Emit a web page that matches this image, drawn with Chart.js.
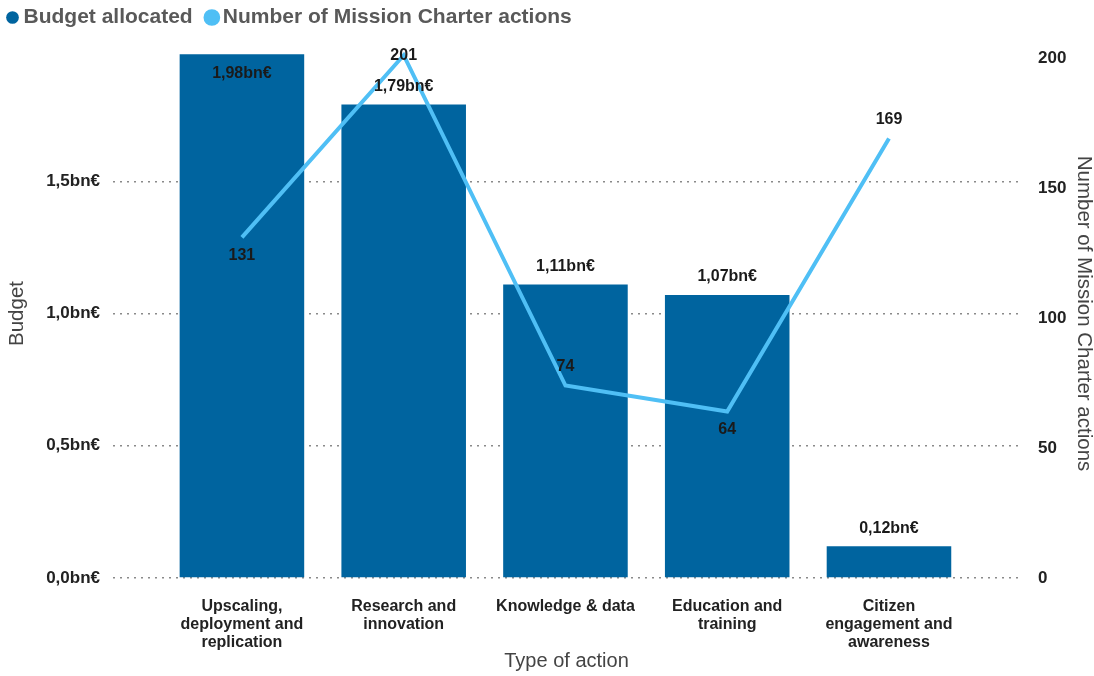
<!DOCTYPE html>
<html>
<head>
<meta charset="utf-8">
<script src="https://cdn.jsdelivr.net/npm/chart.js@4.4.1/dist/chart.umd.min.js"></script>
<style>
  body{margin:0;background:#fff;}
  #wrap{width:1094px;height:676px;}
</style>
</head>
<body>
<div id="wrap"><canvas id="chart" width="1094" height="676"></canvas></div>
<script>
const categories=[
  ["Upscaling,","deployment and","replication"],
  ["Research and","innovation"],
  ["Knowledge & data"],
  ["Education and","training"],
  ["Citizen","engagement and","awareness"]
];
const budget=[1.98,1.79,1.11,1.07,0.12];
const actions=[131,201,74,64,169];
const budgetTicks=[0,0.5,1.0,1.5];
const actionTicks=[0,50,100,150,200];
const actionLabelSide=["below","center","above","below","above"];

const BAR="#00649F", LINE="#4FBFF5";
const FONT="'Liberation Sans', Arial, sans-serif";
const fmtBn=(v,d)=>v.toFixed(d).replace(".",",")+"bn€";

// bar / line value labels
const valueLabels={
  id:"valueLabels",
  afterDatasetsDraw(chart){
    const ctx=chart.ctx, top=chart.chartArea.top;
    ctx.save();
    ctx.font="bold 16px "+FONT;
    ctx.fillStyle="#1a1a1a";
    ctx.textAlign="center"; ctx.textBaseline="middle";
    chart.getDatasetMeta(0).data.forEach((el,i)=>{
      let y=el.y-18;
      if(y<top+8) y=el.y+19;
      ctx.fillText(fmtBn(budget[i],2),el.x,y);
    });
    chart.getDatasetMeta(1).data.forEach((el,i)=>{
      const side=actionLabelSide[i];
      const y=side==="below"?el.y+18:side==="above"?el.y-19:el.y;
      ctx.fillText(String(actions[i]),el.x,y);
    });
    ctx.restore();
  }
};

// extra room under the legend
const legendGap={
  id:"legendGap",
  beforeInit(chart){
    const fit=chart.legend.fit;
    chart.legend.fit=function(){ fit.call(this); this.height+=11; };
  }
};

new Chart(document.getElementById("chart"),{
  type:"bar",
  data:{
    datasets:[
      {label:"Budget allocated",data:budget.map((v,i)=>({x:i,y:v})),backgroundColor:BAR,
       barPercentage:0.77,categoryPercentage:1,yAxisID:"y",order:2},
      {type:"line",label:"Number of Mission Charter actions",data:actions.map((v,i)=>({x:i,y:v})),
       borderColor:LINE,backgroundColor:LINE,borderWidth:4,pointRadius:0,tension:0,yAxisID:"y1",order:1}
    ]
  },
  options:{
    responsive:false,
    animation:false,
    layout:{padding:{top:0,left:5,right:0,bottom:3}},
    plugins:{
      legend:{
        position:"top",align:"start",
        labels:{usePointStyle:true,pointStyle:"circle",boxWidth:1,boxHeight:9,padding:7,
          color:"#595959",font:{family:FONT,size:21,weight:"bold"},
          generateLabels:chart=>Chart.defaults.plugins.legend.labels.generateLabels(chart)
            .sort((a,b)=>a.datasetIndex-b.datasetIndex)
            .map(l=>Object.assign(l,{text:l.text+"  "}))}
      },
      tooltip:{enabled:false}
    },
    scales:{
      x:{
        type:"linear",min:-0.797,max:4.81,offset:false,
        afterBuildTicks:s=>{s.ticks=categories.map((c,i)=>({value:i}));},
        afterFit:s=>{s.height=95;},
        grid:{display:false},border:{display:false},
        ticks:{autoSkip:false,maxRotation:0,color:"#222",padding:11,
          font:{family:FONT,size:16,weight:"bold",lineHeight:1.15},
          callback:v=>categories[v]},
        title:{display:true,text:"Type of action",color:"#444",font:{family:FONT,size:20},padding:{top:4,bottom:0}}
      },
      y:{
        position:"left",min:0,max:2.0,
        afterBuildTicks:s=>{s.ticks=budgetTicks.map(v=>({value:v}));},
        afterFit:s=>{s.width=108;},
        grid:{color:"#8a8a8a",lineWidth:1.5,drawTicks:false},
        border:{display:false,dash:[2,5]},
        ticks:{color:"#222",padding:13,font:{family:FONT,size:17,weight:"bold"},callback:v=>fmtBn(v,1)},
        title:{display:true,text:"Budget",color:"#444",font:{family:FONT,size:20.5},padding:{top:0,bottom:0}}
      },
      y1:{
        position:"right",min:0,max:203.4,
        afterBuildTicks:s=>{s.ticks=actionTicks.map(v=>({value:v}));},
        afterFit:s=>{s.width=74;},
        grid:{display:false},border:{display:false},
        ticks:{color:"#222",padding:10,font:{family:FONT,size:17,weight:"bold"}},
        title:{display:true,text:"Number of Mission Charter actions",color:"#444",
          font:{family:FONT,size:20.5,lineHeight:1.0},padding:{top:0,bottom:0}}
      }
    }
  },
  plugins:[valueLabels,legendGap]
});
</script>
</body>
</html>
